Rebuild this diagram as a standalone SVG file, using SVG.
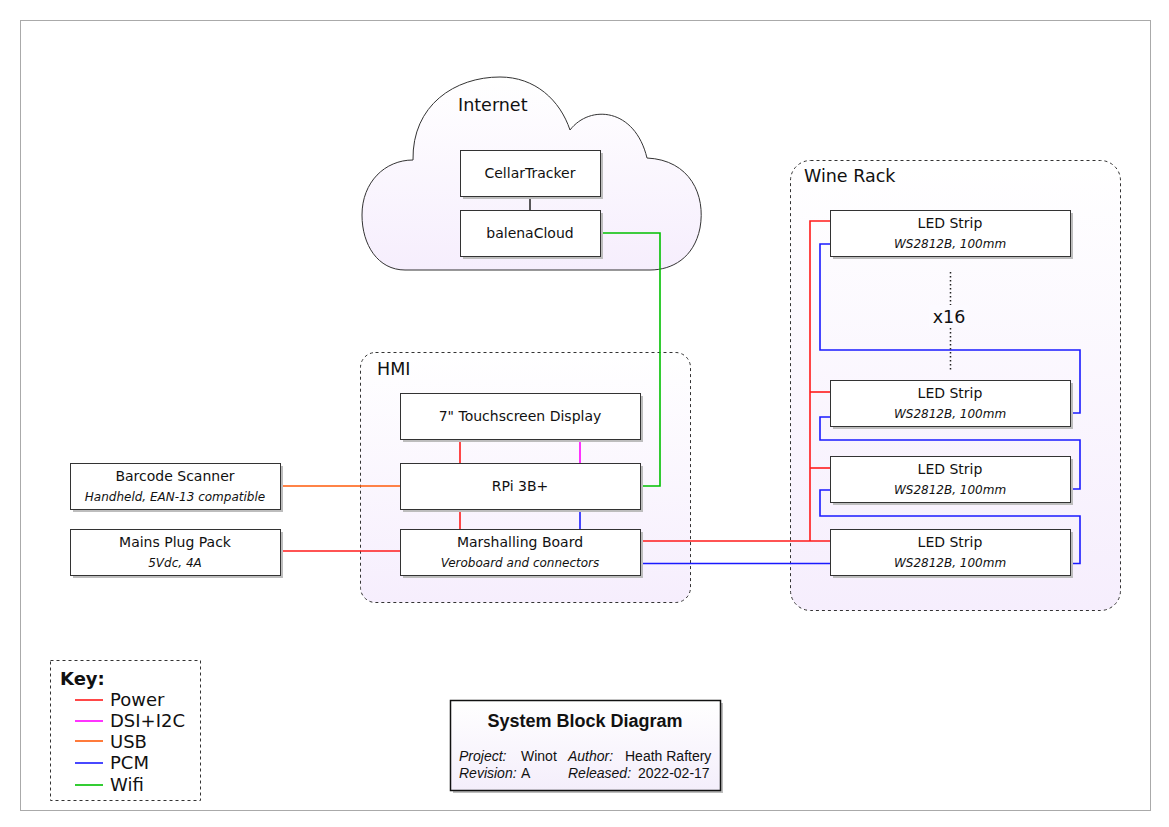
<svg xmlns="http://www.w3.org/2000/svg" width="1169" height="827" viewBox="0 0 1169 827">
<defs>
<linearGradient id="lav" x1="0" y1="0" x2="0" y2="1">
<stop offset="0" stop-color="#ffffff"/>
<stop offset="1" stop-color="#f6eefd"/>
</linearGradient>
<linearGradient id="lav2" x1="0" y1="0" x2="0" y2="1">
<stop offset="0" stop-color="#ffffff"/>
<stop offset="1" stop-color="#f4eefb"/>
</linearGradient>
<style>
.box{fill:#ffffff;stroke:#333333;stroke-width:1}
.shadow{fill:#bdbdbd}
.cont{stroke:#333333;stroke-width:1;stroke-dasharray:3 3;fill:url(#lav)}
.t{font-family:"DejaVu Sans",Verdana,sans-serif;font-size:14px;fill:#111;text-anchor:middle}
.i{font-family:"DejaVu Sans",Verdana,sans-serif;font-size:12px;font-style:italic;fill:#111;text-anchor:middle}
.big{font-family:"DejaVu Sans",Verdana,sans-serif;font-size:17.5px;fill:#111}
.key{font-family:"DejaVu Sans",Verdana,sans-serif;font-size:18px;fill:#111}
.tb{font-family:"Liberation Sans",Arial,sans-serif;font-size:14px;fill:#111}
.tbi{font-family:"Liberation Sans",Arial,sans-serif;font-size:14px;font-style:italic;fill:#111}
.w{fill:none;stroke-width:1.6}
.pw{stroke:#ff1a1a}
.dsi{stroke:#ff00ff}
.usb{stroke:#ff5a0a}
.pcm{stroke:#1a1aff}
.wifi{stroke:#00c000}
</style>
</defs>
<rect x="0" y="0" width="1169" height="827" fill="#ffffff"/>
<rect x="20.5" y="20.5" width="1130" height="790" fill="none" stroke="#aaaaaa" stroke-width="1"/>

<g id="internet">
<path d="M 413 160 C 412 105 455 77 500 77 C 535 77 560 100 570 130 C 590 104 635 108 647 158 C 690 160 706 195 700 228 C 694 258 672 270 650 270 L 405 270 C 378 270 362 245 362 215 C 362 182 385 160 413 160 Z" fill="url(#lav)" stroke="#333333" stroke-width="1"/>
<text class="big" x="458" y="111">Internet</text>
</g>
<g id="hmi">
<rect class="cont" x="360.5" y="352.5" width="330" height="250" rx="15"/>
<text class="big" x="377" y="375">HMI</text>
</g>
<g id="winerack">
<rect class="cont" x="790.5" y="160.5" width="330" height="450" rx="20"/>
<text class="big" x="804" y="182">Wine Rack</text>
</g>

<g id="connectors">
<line x1="530" y1="196" x2="530" y2="210" stroke="#222" stroke-width="1.5"/>
<polyline class="w wifi" points="600,233 660,233 660,486 640,486"/>
<line class="w pw" x1="460" y1="439" x2="460" y2="463"/>
<line class="w dsi" x1="580" y1="439" x2="580" y2="463"/>
<line class="w pw" x1="460" y1="509" x2="460" y2="530"/>
<line class="w pcm" x1="580" y1="509" x2="580" y2="530"/>
<line class="w usb" x1="281" y1="486" x2="400" y2="486"/>
<line class="w pw" x1="281" y1="551" x2="400" y2="551"/>
<polyline class="w pw" points="640,541 830,541"/>
<polyline class="w pw" points="830,221 810,221 810,541"/>
<line class="w pw" x1="810" y1="392" x2="830" y2="392"/>
<line class="w pw" x1="810" y1="468" x2="830" y2="468"/>
<polyline class="w pcm" points="640,563.5 830,563.5"/>
<polyline class="w pcm" points="830,244 820,244 820,350 1080,350 1080,413 1070,413"/>
<polyline class="w pcm" points="830,417 820,417 820,440 1080,440 1080,489 1070,489"/>
<polyline class="w pcm" points="830,490 820,490 820,516 1080,516 1080,563.5 1070,563.5"/>
<line x1="950.5" y1="272" x2="950.5" y2="370" stroke="#222" stroke-width="1.5" stroke-dasharray="1.5 2.5"/>
</g>

<g id="x16">
<rect x="929" y="305" width="40" height="22" fill="#fcfaff"/>
<text class="big" x="949" y="323" text-anchor="middle">x16</text>
</g>

<g id="cellartracker">
<rect class="shadow" x="463" y="153" width="140" height="46"/>
<rect class="box" x="460.5" y="150.5" width="140" height="46"/>
<text class="t" x="530" y="178">CellarTracker</text>
</g>
<g id="balenacloud">
<rect class="shadow" x="463" y="213" width="140" height="46"/>
<rect class="box" x="460.5" y="210.5" width="140" height="46"/>
<text class="t" x="530" y="238">balenaCloud</text>
</g>

<g id="touchscreen">
<rect class="shadow" x="403" y="396" width="240" height="46"/>
<rect class="box" x="400.5" y="393.5" width="240" height="46"/>
<text class="t" x="520" y="421">7" Touchscreen Display</text>
</g>
<g id="rpi">
<rect class="shadow" x="403" y="466" width="240" height="46"/>
<rect class="box" x="400.5" y="463.5" width="240" height="46"/>
<text class="t" x="520" y="491">RPi 3B+</text>
</g>
<g id="marshalling">
<rect class="shadow" x="403" y="532" width="240" height="46"/>
<rect class="box" x="400.5" y="529.5" width="240" height="46"/>
<text class="t" x="520" y="547">Marshalling Board</text>
<text class="i" x="520" y="567">Veroboard and connectors</text>
</g>

<g id="barcode">
<rect class="shadow" x="73" y="466" width="210" height="46"/>
<rect class="box" x="70.5" y="463.5" width="210" height="46"/>
<text class="t" x="175" y="481">Barcode Scanner</text>
<text class="i" x="175" y="501">Handheld, EAN-13 compatible</text>
</g>
<g id="mains">
<rect class="shadow" x="73" y="532" width="210" height="46"/>
<rect class="box" x="70.5" y="529.5" width="210" height="46"/>
<text class="t" x="175" y="547">Mains Plug Pack</text>
<text class="i" x="175" y="567">5Vdc, 4A</text>
</g>

<g id="led1">
<rect class="shadow" x="833" y="213" width="240" height="46"/>
<rect class="box" x="830.5" y="210.5" width="240" height="46"/>
<text class="t" x="950" y="228">LED Strip</text>
<text class="i" x="950" y="248">WS2812B, 100mm</text>
</g>
<g id="led2">
<rect class="shadow" x="833" y="383" width="240" height="46"/>
<rect class="box" x="830.5" y="380.5" width="240" height="46"/>
<text class="t" x="950" y="398">LED Strip</text>
<text class="i" x="950" y="418">WS2812B, 100mm</text>
</g>
<g id="led3">
<rect class="shadow" x="833" y="459" width="240" height="46"/>
<rect class="box" x="830.5" y="456.5" width="240" height="46"/>
<text class="t" x="950" y="474">LED Strip</text>
<text class="i" x="950" y="494">WS2812B, 100mm</text>
</g>
<g id="led4">
<rect class="shadow" x="833" y="532" width="240" height="46"/>
<rect class="box" x="830.5" y="529.5" width="240" height="46"/>
<text class="t" x="950" y="547">LED Strip</text>
<text class="i" x="950" y="567">WS2812B, 100mm</text>
</g>

<g id="key">
<rect x="50.5" y="660.5" width="150" height="140" fill="#ffffff" stroke="#333333" stroke-width="1" stroke-dasharray="3 3"/>
<text class="key" x="60" y="685" font-weight="bold" font-size="17.5px">Key:</text>
<line class="w pw" x1="75" y1="700" x2="103" y2="700"/>
<text class="key" x="110" y="706">Power</text>
<line class="w dsi" x1="75" y1="721" x2="103" y2="721"/>
<text class="key" x="110" y="727">DSI+I2C</text>
<line class="w usb" x1="75" y1="741" x2="103" y2="741"/>
<text class="key" x="110" y="748">USB</text>
<line class="w pcm" x1="75" y1="763" x2="103" y2="763"/>
<text class="key" x="110" y="769">PCM</text>
<line class="w wifi" x1="75" y1="785" x2="103" y2="785"/>
<text class="key" x="110" y="791">Wifi</text>
</g>

<g id="titleblock">
<rect x="453" y="703" width="270" height="90" fill="#bdbdbd"/>
<rect x="450.5" y="700.5" width="270" height="90" fill="url(#lav2)" stroke="#111111" stroke-width="1.5"/>
<text x="585" y="727" text-anchor="middle" font-family="'Liberation Sans',Arial,sans-serif" font-size="18px" font-weight="bold" fill="#111">System Block Diagram</text>
<text class="tbi" x="459" y="761">Project:</text>
<text class="tb" x="521" y="761">Winot</text>
<text class="tbi" x="568" y="761">Author:</text>
<text class="tb" x="625" y="761">Heath Raftery</text>
<text class="tbi" x="459" y="778">Revision:</text>
<text class="tb" x="521" y="778">A</text>
<text class="tbi" x="568" y="778">Released:</text>
<text class="tb" x="638" y="778">2022-02-17</text>
</g>
</svg>
